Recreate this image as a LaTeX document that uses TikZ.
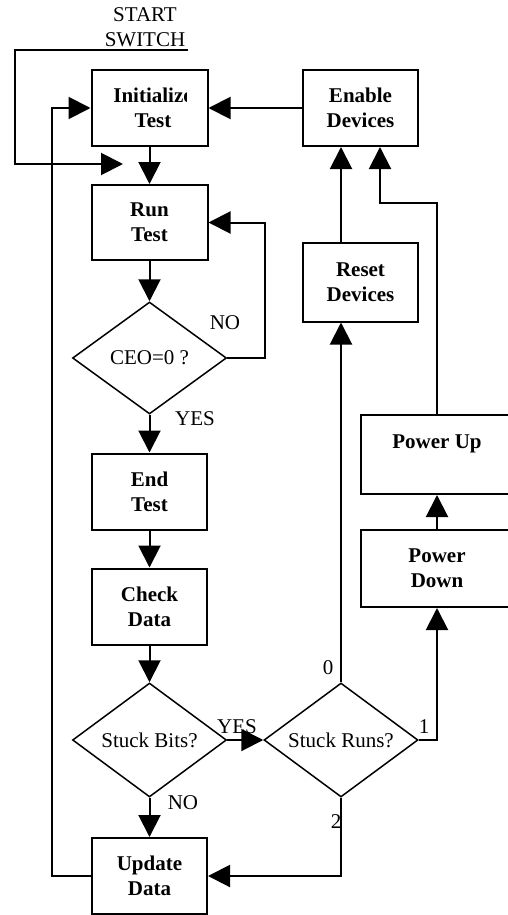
\documentclass[tikz,border=0pt]{standalone}
\usepackage{fontspec}
\setmainfont{Liberation Serif}
\usetikzlibrary{arrows.meta,shapes.geometric}
\begin{document}
\begin{tikzpicture}[x=1pt,y=-1pt,
  box/.style={draw,line width=2pt,minimum width=115pt,minimum height=76pt,inner sep=0pt,align=center,font=\fontsize{21}{25}\selectfont\bfseries},
  dia/.style={draw,diamond,line width=1.5pt,minimum width=154pt,minimum height=114pt,inner sep=0pt,shape aspect=1.35,font=\fontsize{21}{25}\selectfont},
  lbl/.style={inner sep=0pt,font=\fontsize{21}{25}\selectfont},
  arr/.style={line width=2pt,-{Triangle[length=22pt,width=22pt]}}
]
\useasboundingbox (0,0) rectangle (508,915);
% boxes
\node[box,minimum width=116pt] (init) at (149.5,108) {};
\begin{scope}
  \clip (92,60) rectangle (186,150);
  \node[box,draw=none,minimum width=116pt] (inittxt) at (153,108) {Initialize\\Test};
\end{scope}
\node[box] (enable) at (360.5,108) {Enable\\Devices};
\node[box,minimum width=116pt,minimum height=75pt] (run) at (149.5,222.5) {Run\\Test};
\node[dia,minimum height=112pt] (ceo) at (149.5,358) {CEO=0 ?};
\node[box] (end) at (149.5,491.5) {End\\Test};
\node[box] (check) at (149.5,606.5) {Check\\Data};
\node[dia] (bits) at (149.5,740) {Stuck Bits?};
\node[dia] (runs) at (341,740) {Stuck Runs?};
\node[box] (update) at (149.5,876) {Update\\Data};
\node[box,minimum height=79pt] (reset) at (360.5,282) {Reset\\Devices};
\node[box,minimum width=152pt,minimum height=79pt] (pup) at (437,454.5) {Power Up\\\mbox{}};
\node[box,minimum width=152pt,minimum height=77pt] (pdown) at (437,568.5) {Power\\Down};
% start switch
\node[lbl,align=center] (sw) at (145,27) {START\\SWITCH};
\coordinate (s1) at (188,50);
\coordinate (s2) at (123,164);
\draw[arr] (s1) -- ++(-173,0) |- (s2);
% connectors
\draw[arr] (enable.west) -- (init.east);
\draw[arr] (init.south) -- (run.north);
\draw[arr] (run.south) -- (ceo.north);
\draw[arr] (ceo.east) -- ++(38,0) |- (run.east);
\draw[arr] (ceo.south) -- (end.north);
\draw[arr] (end.south) -- (check.north);
\draw[arr] (check.south) -- (bits.north);
\draw[arr] (bits.east) -- (runs.west);
\draw[arr] (bits.south) -- (update.north);
\draw[arr] (runs.north) -- (reset.south -| runs.north);
\draw[arr] (reset.north -| runs.north) -- (enable.south -| runs.north);
\draw[arr] (runs.east) -| (pdown.south);
\draw[arr] (pdown.north) -- (pup.south);
\coordinate (k) at (380,203);
\draw[arr] (pup.north) |- (k) -- (k |- enable.south);
\draw[arr] (runs.south) |- (update.east);
\draw[arr] (update.west) -- ++(-39,0) |- (init.west);
% labels
\node[lbl] (l1) at (225,323) {NO};
\node[lbl] (l2) at (195,419) {YES};
\node[lbl] (l3) at (237,727) {YES};
\node[lbl] (l4) at (183,803) {NO};
\node[lbl] (l5) at (328,668) {0};
\node[lbl] (l6) at (424,727) {1};
\node[lbl] (l7) at (336,822) {2};
\end{tikzpicture}
\end{document}
